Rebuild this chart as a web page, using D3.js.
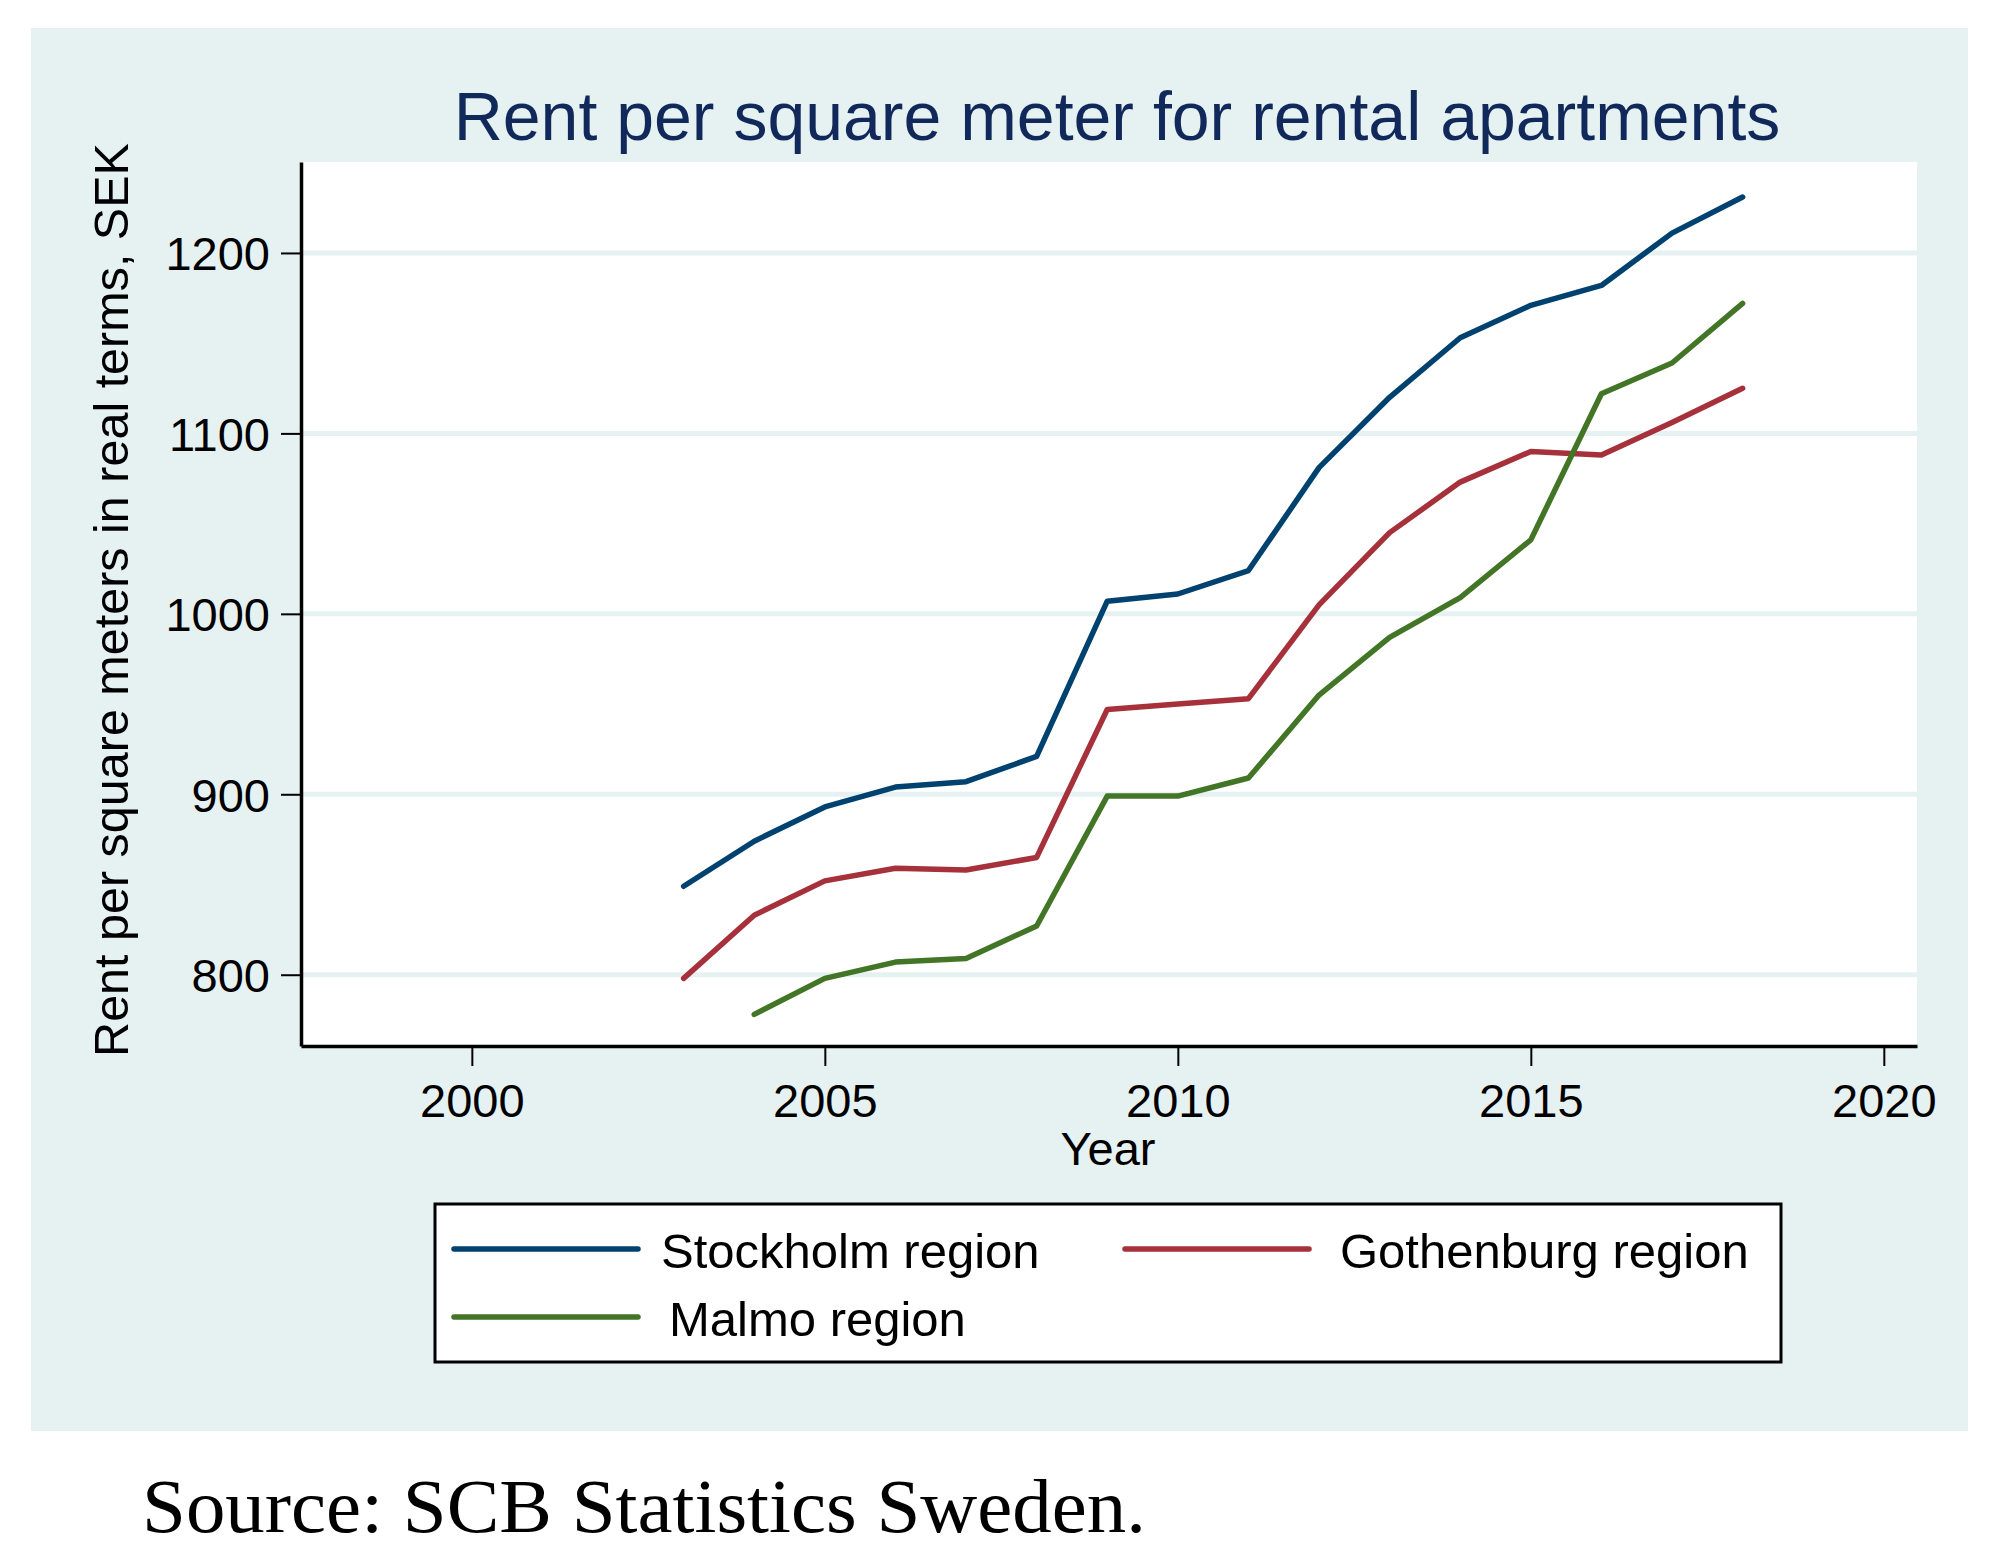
<!DOCTYPE html>
<html>
<head>
<meta charset="utf-8">
<script src="https://cdn.jsdelivr.net/npm/d3@7"></script>
<style>
  body { margin: 0; background: #ffffff; }
  text { font-family: "Liberation Sans", Arial, Helvetica, sans-serif; }
</style>
</head>
<body>
<div id="chart"></div>
<script>
var years = [2003, 2004, 2005, 2006, 2007, 2008, 2009, 2010, 2011, 2012, 2013, 2014, 2015, 2016, 2017, 2018];
var stockholm = [849, 874, 893, 904, 907, 921, 1007, 1011, 1024, 1081, 1120, 1153, 1171, 1182, 1211, 1231];
var gothenburg = [798, 833, 852, 859, 858, 865, 947, 950, 953, 1005, 1045, 1073, 1090, 1088, 1106, 1125];
var malmo = [null, 778, 798, 807, 809, 827, 899, 899, 909, 955, 987, 1009, 1041, 1122, 1139, 1172];
var seriesNames = ["Stockholm region", "Gothenburg region", "Malmo region"];
var seriesColors = ["#00426f", "#a6313b", "#437526"];
var xTicks = [2000, 2005, 2010, 2015, 2020];
var yTicks = [800, 900, 1000, 1100, 1200];

var W = 1994, H = 1563;
var bg = "#e6f1f2";
var plot = {left: 301, right: 1917, top: 162, bottom: 1046};

var svg = d3.select("#chart").append("svg")
    .attr("width", W).attr("height", H);

// outer graph region
svg.append("rect").attr("x", 31).attr("y", 28)
    .attr("width", 1937).attr("height", 1403).attr("fill", bg);
svg.append("rect").attr("x", plot.left).attr("y", plot.top)
    .attr("width", plot.right - plot.left).attr("height", plot.bottom - plot.top)
    .attr("fill", "#ffffff");

var x = d3.scaleLinear().domain([1997.58, 2020.47]).range([plot.left, plot.right]);
var y = d3.scaleLinear().domain([760.5, 1250.4]).range([plot.bottom, plot.top]);

// grid lines
svg.append("g").selectAll("line").data(yTicks).enter().append("line")
    .attr("x1", plot.left).attr("x2", plot.right)
    .attr("y1", function(d) { return y(d); })
    .attr("y2", function(d) { return y(d); })
    .attr("stroke", bg).attr("stroke-width", 5);

// axes
var yAxis = svg.append("g")
    .attr("transform", "translate(" + plot.left + ",0)")
    .call(d3.axisLeft(y).tickValues(yTicks).tickFormat(d3.format("d"))
        .tickSize(20).tickSizeOuter(0).tickPadding(11));
var xAxis = svg.append("g")
    .attr("transform", "translate(0," + plot.bottom + ")")
    .call(d3.axisBottom(x).tickValues(xTicks).tickFormat(d3.format("d"))
        .tickSize(20).tickSizeOuter(0).tickPadding(18));
[yAxis, xAxis].forEach(function(a) {
    a.select(".domain").attr("stroke", "#000").attr("stroke-width", 3.5);
    a.selectAll(".tick line").attr("stroke", "#000").attr("stroke-width", 2);
    a.selectAll(".tick text").attr("fill", "#000")
        .style("font-family", "'Liberation Sans', Arial, sans-serif")
        .attr("font-size", 47);
});
yAxis.selectAll(".tick text").attr("dy", "0.36em");
xAxis.selectAll(".tick text").attr("dy", "0.71em");

// series
var series = [stockholm, gothenburg, malmo];
var line = d3.line()
    .defined(function(d) { return d[1] != null; })
    .x(function(d) { return x(d[0]); })
    .y(function(d) { return y(d[1]); });
series.forEach(function(vals, i) {
    svg.append("path")
        .datum(years.map(function(yr, j) { return [yr, vals[j]]; }))
        .attr("d", line)
        .attr("fill", "none")
        .attr("stroke", seriesColors[i])
        .attr("stroke-width", 5.5)
        .attr("stroke-linejoin", "round")
        .attr("stroke-linecap", "round");
});

// titles
svg.append("text").attr("x", 1117).attr("y", 140)
    .attr("text-anchor", "middle").attr("font-size", 68).attr("fill", "#11295a")
    .text("Rent per square meter for rental apartments");
svg.append("text").attr("x", 1108).attr("y", 1165)
    .attr("text-anchor", "middle").attr("font-size", 47).attr("fill", "#000")
    .text("Year");
svg.append("text")
    .attr("transform", "translate(128,600) rotate(-90)")
    .attr("text-anchor", "middle").attr("font-size", 48.5).attr("fill", "#000")
    .text("Rent per square meters in real terms, SEK");

// legend
svg.append("rect").attr("x", 435).attr("y", 1204)
    .attr("width", 1346).attr("height", 158)
    .attr("fill", "#fff").attr("stroke", "#000").attr("stroke-width", 3);
var legendPos = [
    {lx: 454, ly: 1249, tx: 661, ty: 1268},
    {lx: 1125, ly: 1249, tx: 1340, ty: 1268},
    {lx: 454, ly: 1317, tx: 669, ty: 1336}
];
seriesNames.forEach(function(name, i) {
    var p = legendPos[i];
    svg.append("line").attr("x1", p.lx).attr("x2", p.lx + 184)
        .attr("y1", p.ly).attr("y2", p.ly)
        .attr("stroke", seriesColors[i]).attr("stroke-width", 5.5)
        .attr("stroke-linecap", "round");
    svg.append("text").attr("x", p.tx).attr("y", p.ty)
        .attr("font-size", 49).attr("fill", "#000").text(name);
});

// source note
svg.append("text").attr("x", 142).attr("y", 1532)
    .style("font-family", "'Liberation Serif', 'Times New Roman', serif")
    .attr("font-size", 76).attr("fill", "#000")
    .attr("textLength", 1004).attr("lengthAdjust", "spacingAndGlyphs")
    .text("Source: SCB Statistics Sweden.");
</script>
</body>
</html>
